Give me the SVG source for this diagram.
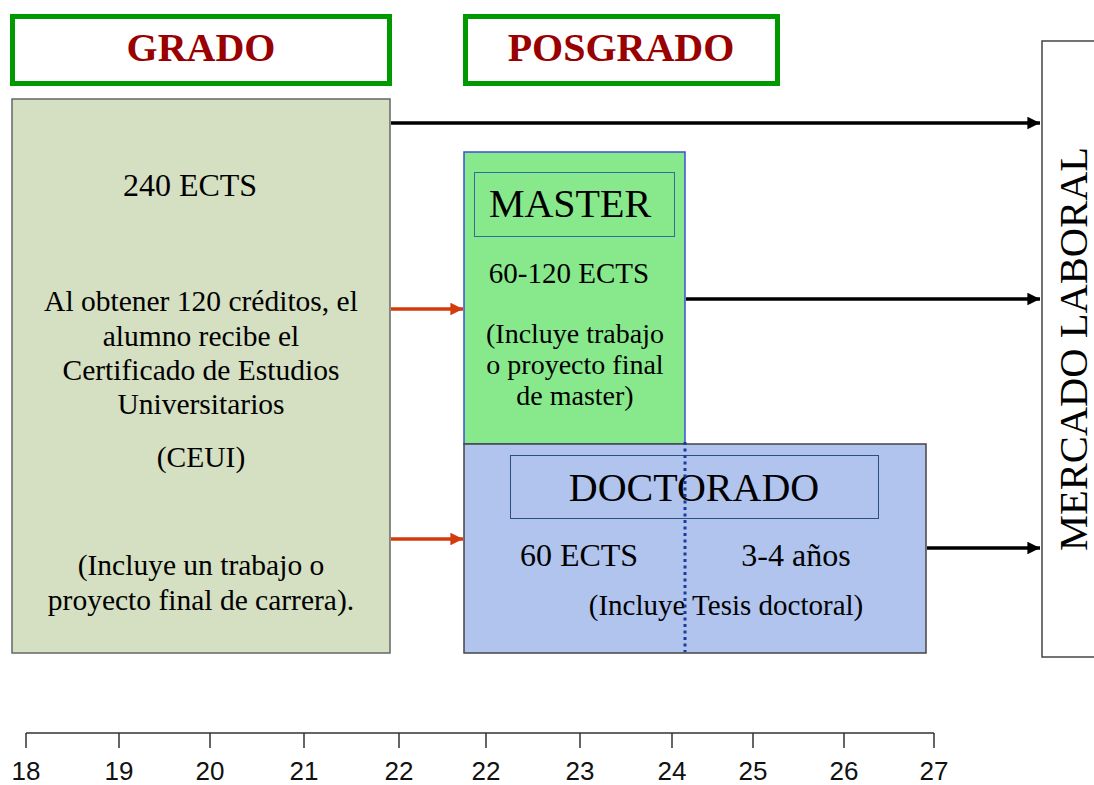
<svg xmlns="http://www.w3.org/2000/svg" width="1094" height="785" viewBox="0 0 1094 785">
<style>
.serif{font-family:"Liberation Serif","Times New Roman",serif;fill:#000}
.hdr{font-family:"Liberation Serif","Times New Roman",serif;font-weight:bold;font-size:40px;fill:#990000}
.hbox{fill:#fff;stroke:#009900;stroke-width:5}
.axis{stroke:#333;stroke-width:1.5;fill:none}
.lbl{font-family:"Liberation Sans",Arial,sans-serif;font-size:26px;fill:#111}
.blk{stroke:#000;stroke-width:3.5;fill:none}
.red{stroke:#d53a0c;stroke-width:3.5;fill:none}
</style>
<defs>
<marker id="ab" viewBox="0 0 10 10" refX="10" refY="5" markerWidth="4.4" markerHeight="3.6" markerUnits="strokeWidth" orient="auto"><path d="M0,0L10,5L0,10z" fill="#000"/></marker>
<marker id="ar" viewBox="0 0 10 10" refX="10" refY="5" markerWidth="4.4" markerHeight="3.6" markerUnits="strokeWidth" orient="auto"><path d="M0,0L10,5L0,10z" fill="#d53a0c"/></marker>
</defs>
<rect width="1094" height="785" fill="#fff"/>

<g id="grado-header">
<rect class="hbox" x="12.5" y="16.5" width="377" height="67"/>
<text class="hdr" x="201" y="61" text-anchor="middle">GRADO</text>
</g>
<g id="posgrado-header">
<rect class="hbox" x="465.5" y="16.5" width="312" height="67"/>
<text class="hdr" x="621" y="61" text-anchor="middle">POSGRADO</text>
</g>

<g id="grado">
<rect x="12" y="99" width="378" height="554" fill="#d5dfc1" stroke="#666" stroke-width="1.5"/>
<text class="serif" font-size="32" x="190" y="196" text-anchor="middle">240 ECTS</text>
<g font-size="29.5" text-anchor="middle">
<text class="serif" x="201" y="311">Al obtener 120 créditos, el</text>
<text class="serif" x="201" y="346">alumno recibe el</text>
<text class="serif" x="201" y="380">Certificado de Estudios</text>
<text class="serif" x="201" y="414">Universitarios</text>
<text class="serif" x="201" y="467">(CEUI)</text>
<text class="serif" x="201" y="575">(Incluye un trabajo o</text>
<text class="serif" x="201" y="610">proyecto final de carrera).</text>
</g>
</g>

<g id="master">
<rect x="464" y="152" width="221" height="292" fill="#88e88c" stroke="#3b4fd6" stroke-width="1.5"/>
<rect x="474.5" y="172.5" width="200" height="64" fill="none" stroke="#2d6ea0" stroke-width="1"/>
<text class="serif" font-size="40" x="570" y="217" text-anchor="middle">MASTER</text>
<text class="serif" font-size="29" x="569" y="283" text-anchor="middle">60-120 ECTS</text>
<g font-size="28" text-anchor="middle">
<text class="serif" x="575" y="343">(Incluye trabajo</text>
<text class="serif" x="575" y="374">o proyecto final</text>
<text class="serif" x="575" y="405">de master)</text>
</g>
</g>

<g id="doctorado">
<rect x="464" y="444" width="462" height="209" fill="#b0c4ee" stroke="#444" stroke-width="1.5"/>
<rect x="510.5" y="455.5" width="368" height="63" fill="none" stroke="#2c4f80" stroke-width="1"/>
<text class="serif" font-size="40" x="694" y="501" text-anchor="middle">DOCTORADO</text>
<text class="serif" font-size="32" x="579" y="566" text-anchor="middle">60 ECTS</text>
<text class="serif" font-size="32" x="796" y="566" text-anchor="middle">3-4 años</text>
<text class="serif" font-size="29" x="726" y="615" text-anchor="middle">(Incluye Tesis doctoral)</text>
<line x1="685" y1="442" x2="685" y2="652" stroke="#1a3ca0" stroke-width="3" stroke-dasharray="3,3.5"/>
</g>

<g id="mercado-laboral">
<rect x="1042" y="41" width="70" height="616" fill="#fff" stroke="#444" stroke-width="1.5"/>
<text class="serif" font-size="40.5" transform="translate(1087,349) rotate(-90)" text-anchor="middle">MERCADO LABORAL</text>
</g>

<g id="connectors">
<line class="blk" x1="391" y1="123" x2="1040" y2="123" marker-end="url(#ab)"/>
<line class="blk" x1="686" y1="299" x2="1040" y2="299" marker-end="url(#ab)"/>
<line class="blk" x1="927" y1="548" x2="1040" y2="548" marker-end="url(#ab)"/>
<line class="red" x1="391" y1="309" x2="463" y2="309" marker-end="url(#ar)"/>
<line class="red" x1="391" y1="539" x2="463" y2="539" marker-end="url(#ar)"/>
</g>

<g id="axis">
<path class="axis" d="M26,733H934M26,733V748M119,733V748M210,733V748M304,733V748M399,733V748M486,733V748M580,733V748M672,733V748M753,733V748M844,733V748M934,733V748"/>
<g text-anchor="middle">
<text class="lbl" x="26" y="780">18</text>
<text class="lbl" x="119" y="780">19</text>
<text class="lbl" x="210" y="780">20</text>
<text class="lbl" x="304" y="780">21</text>
<text class="lbl" x="399" y="780">22</text>
<text class="lbl" x="486" y="780">22</text>
<text class="lbl" x="580" y="780">23</text>
<text class="lbl" x="672" y="780">24</text>
<text class="lbl" x="753" y="780">25</text>
<text class="lbl" x="844" y="780">26</text>
<text class="lbl" x="934" y="780">27</text>
</g>
</g>
</svg>
